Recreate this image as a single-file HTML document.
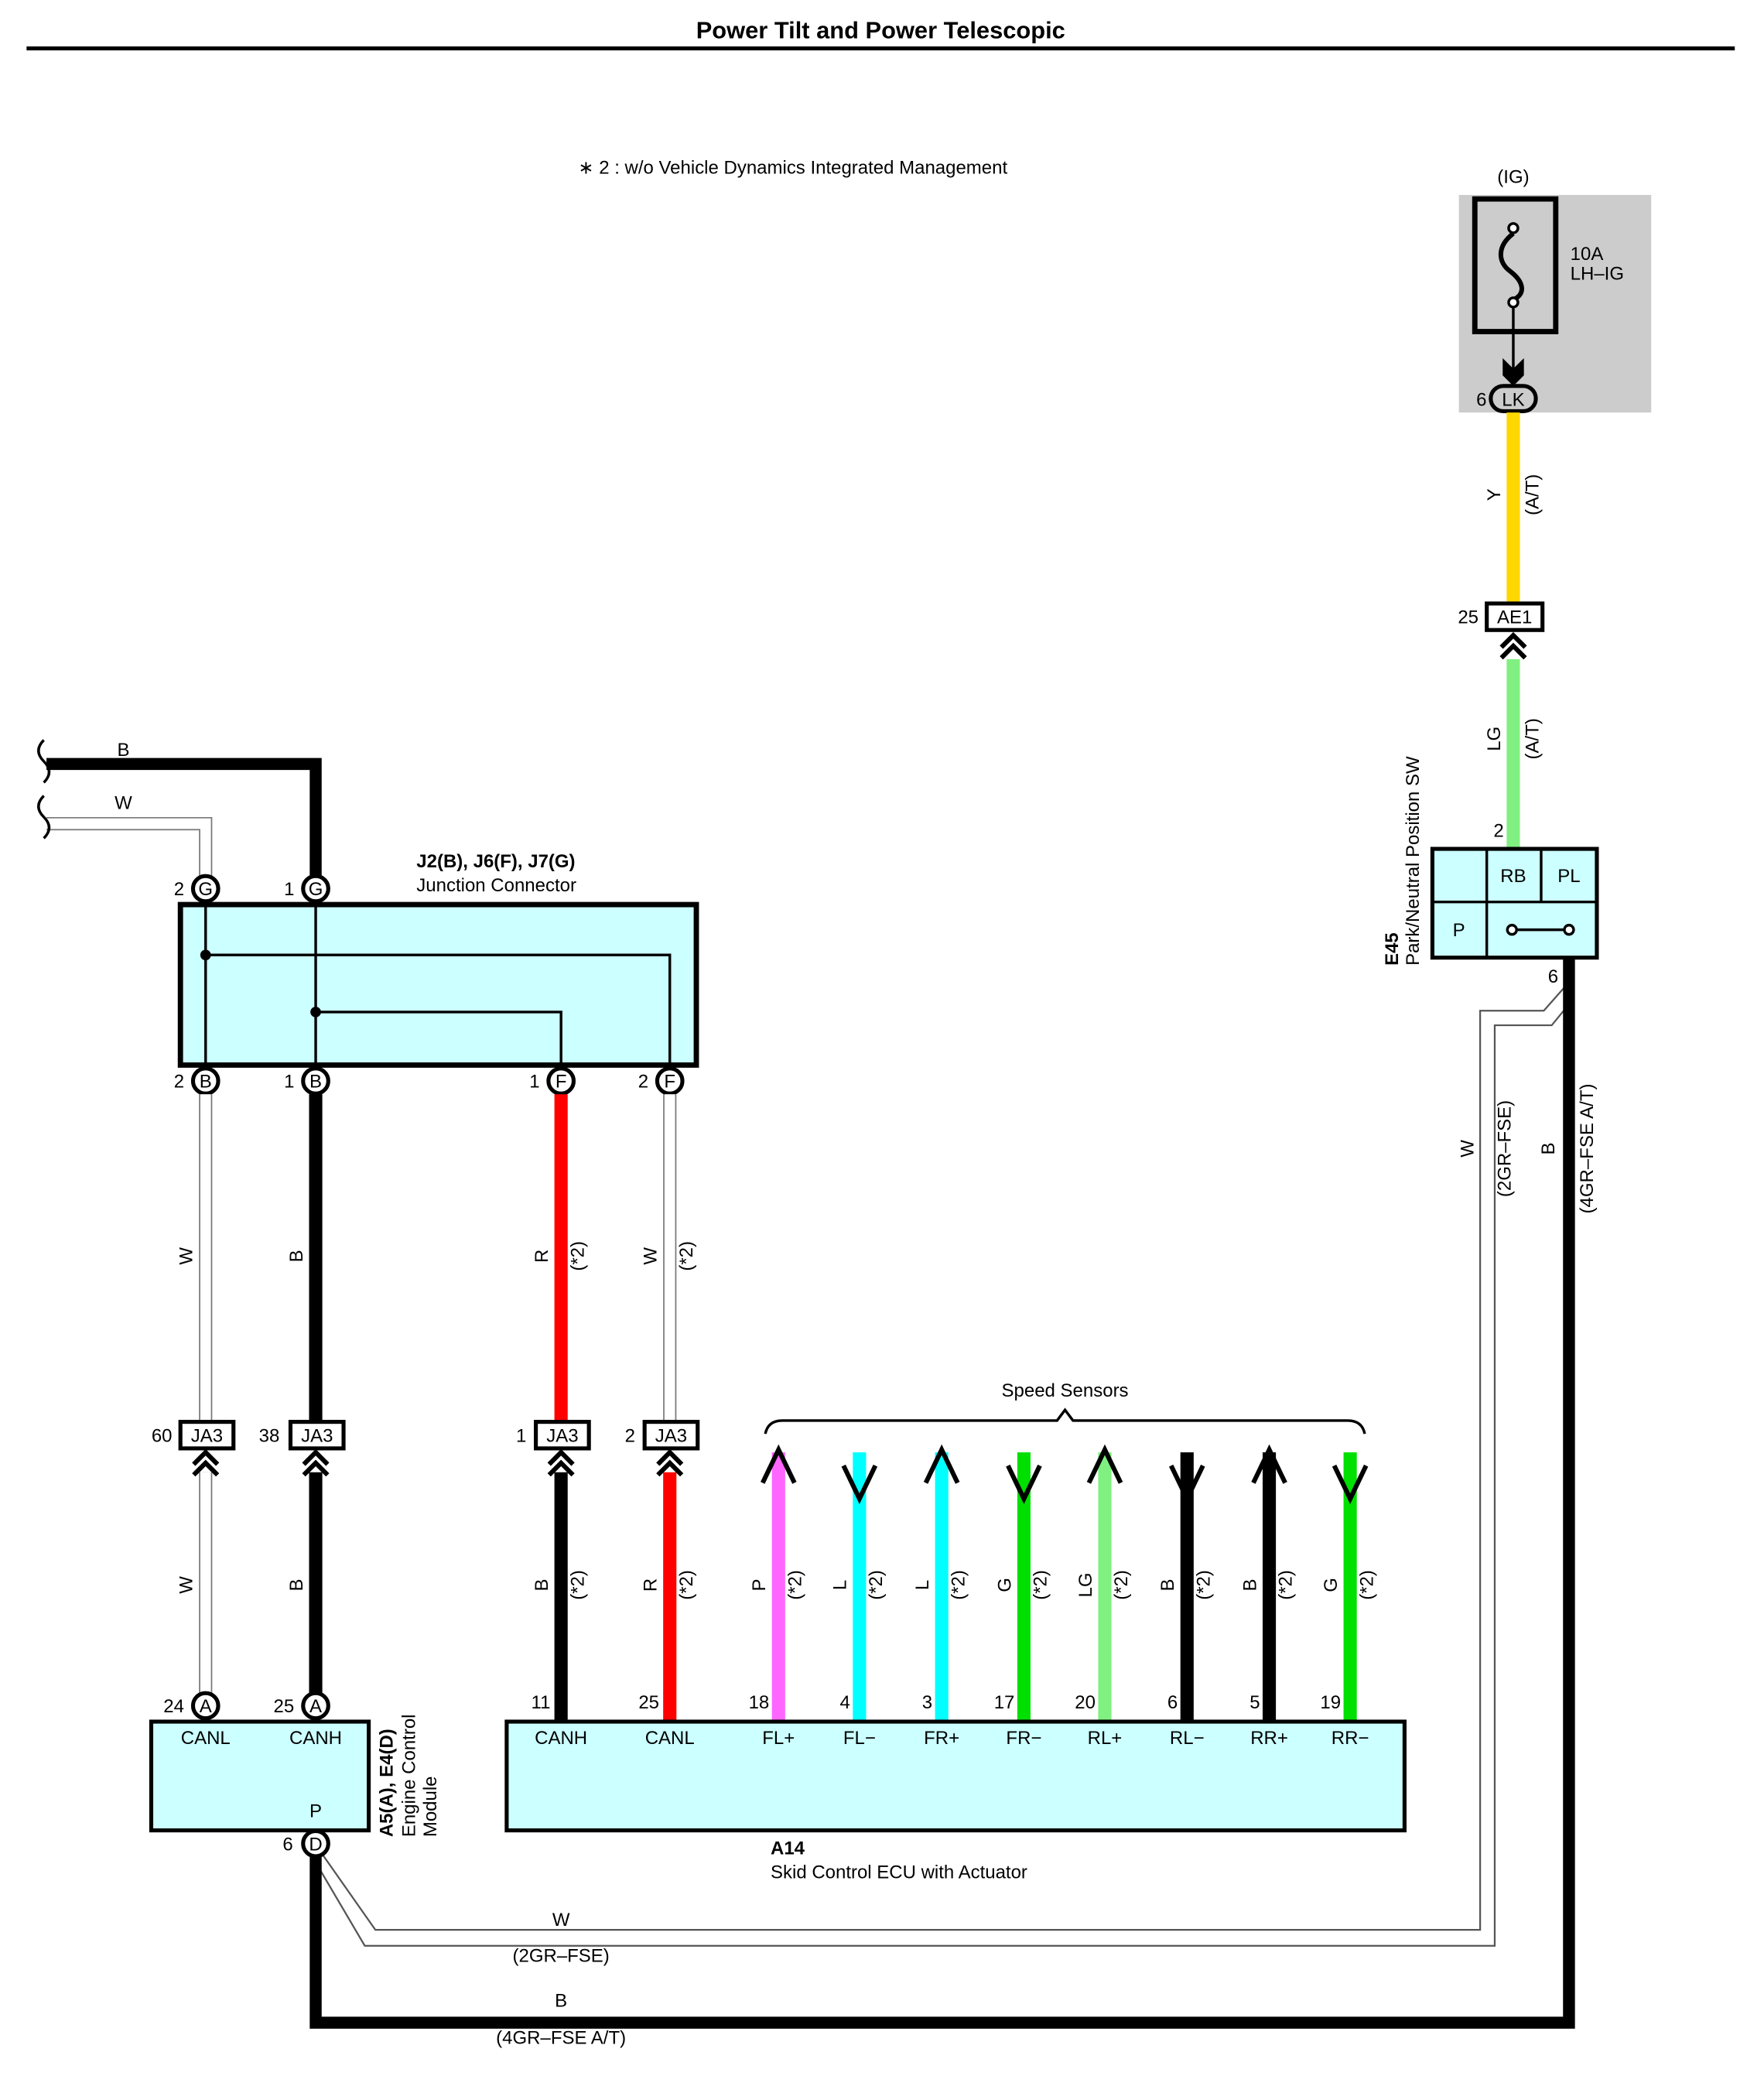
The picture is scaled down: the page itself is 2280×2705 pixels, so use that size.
<!DOCTYPE html>
<html><head><meta charset="utf-8"><style>
html,body{margin:0;padding:0;background:#fff}
svg{display:block}
text{font-family:"Liberation Sans",Arial,sans-serif;font-size:14px;fill:#000}
.b{font-weight:bold}
</style></head><body>
<svg width="2280" height="2705" viewBox="0 0 1330 1578" xmlns="http://www.w3.org/2000/svg">
<rect width="1330" height="1578" fill="#fff"/>
<text x="664" y="29" text-anchor="middle" class="b" style="font-size:18px">Power Tilt and Power Telescopic</text>
<line x1="20" y1="36.5" x2="1308" y2="36.5" stroke="#000" stroke-width="3"/>
<text x="436" y="131">∗ 2 : w/o Vehicle Dynamics Integrated Management</text>

<!-- Fuse -->
<rect x="1100" y="147" width="145" height="164" fill="#cccccc"/>
<text x="1141" y="138" text-anchor="middle">(IG)</text>
<rect x="1112" y="150" width="61" height="100" fill="none" stroke="#000" stroke-width="4"/>
<path d="M1141,176 C1128,186 1130,198 1138,204 C1150,213 1150,222 1141,226" fill="none" stroke="#000" stroke-width="3.5"/>
<circle cx="1141" cy="172" r="3.5" fill="#fff" stroke="#000" stroke-width="2"/>
<circle cx="1141" cy="228" r="3.5" fill="#fff" stroke="#000" stroke-width="2"/>
<line x1="1141" y1="231" x2="1141" y2="285" stroke="#000" stroke-width="2"/>
<path d="M1133,270 L1141,278 L1149,270 L1149,283 L1141,291 L1133,283Z" fill="#000"/>
<text x="1184" y="196">10A</text><text x="1184" y="211">LH–IG</text>
<rect x="1124" y="291" width="34" height="19" rx="9.5" fill="#ccc" stroke="#000" stroke-width="3"/>
<text x="1141" y="306" text-anchor="middle">LK</text>
<text x="1117" y="306" text-anchor="middle">6</text>

<!-- Y wire -->
<line x1="1141" y1="311" x2="1141" y2="455" stroke="#ffd700" stroke-width="10"/>
<text transform="translate(1131,373) rotate(-90)" text-anchor="middle">Y</text>
<text transform="translate(1160,373) rotate(-90)" text-anchor="middle">(A/T)</text>
<rect x="1121" y="455" width="42" height="20" fill="#fff" stroke="#000" stroke-width="3"/>
<text x="1142" y="470" text-anchor="middle">AE1</text>
<text x="1107" y="470" text-anchor="middle">25</text>
<line x1="1141" y1="497" x2="1141" y2="640" stroke="#80f080" stroke-width="10"/>
<path d="M1132,488 L1141,479 L1150,488 M1132,496 L1141,487 L1150,496" fill="none" stroke="#000" stroke-width="3.5"/>
<text transform="translate(1131,557) rotate(-90)" text-anchor="middle">LG</text>
<text transform="translate(1160,557) rotate(-90)" text-anchor="middle">(A/T)</text>
<text x="1130" y="631" text-anchor="middle">2</text>

<!-- E45 -->
<rect x="1080" y="640" width="124" height="82" fill="#ccffff" stroke="#000" stroke-width="3"/>
<line x1="1121" y1="640" x2="1121" y2="722" stroke="#000" stroke-width="2"/>
<line x1="1080" y1="680" x2="1204" y2="680" stroke="#000" stroke-width="2"/>
<line x1="1162" y1="640" x2="1162" y2="680" stroke="#000" stroke-width="2"/>
<text x="1141" y="665" text-anchor="middle">RB</text>
<text x="1183" y="665" text-anchor="middle">PL</text>
<text x="1100" y="706" text-anchor="middle">P</text>
<line x1="1140" y1="701" x2="1183" y2="701" stroke="#000" stroke-width="2"/>
<circle cx="1140" cy="701" r="3.5" fill="#fff" stroke="#000" stroke-width="2"/>
<circle cx="1183" cy="701" r="3.5" fill="#fff" stroke="#000" stroke-width="2"/>
<text transform="translate(1054,728) rotate(-90)" class="b">E45</text>
<text transform="translate(1070,728) rotate(-90)">Park/Neutral Position SW</text>
<text x="1171" y="741" text-anchor="middle">6</text>

<!-- W 2GR path (two thin lines) -->
<g fill="none" stroke="#555" stroke-width="1.3">
<path d="M1179,745 L1164,762 L1116,762 L1116,1455 L283,1455 L243,1398"/>
<path d="M1179,762 L1170,773 L1127,773 L1127,1467 L275,1467 L235,1399"/>
</g>
<!-- B 4GR path -->
<path d="M1183,722 L1183,1525 L238,1525 L238,1400" fill="none" stroke="#000" stroke-width="9"/>
<text transform="translate(1111,866) rotate(-90)" text-anchor="middle">W</text>
<text transform="translate(1139,866) rotate(-90)" text-anchor="middle">(2GR–FSE)</text>
<text transform="translate(1172,866) rotate(-90)" text-anchor="middle">B</text>
<text transform="translate(1201,866) rotate(-90)" text-anchor="middle">(4GR–FSE A/T)</text>
<text x="423" y="1452" text-anchor="middle">W</text>
<text x="423" y="1479" text-anchor="middle">(2GR–FSE)</text>
<text x="423" y="1513" text-anchor="middle">B</text>
<text x="423" y="1541" text-anchor="middle">(4GR–FSE A/T)</text>

<!-- Top-left wires -->
<path d="M35,576 L238,576 L238,670" fill="none" stroke="#000" stroke-width="9"/>
<path d="M35,621 L155,621 L155,670" fill="none" stroke="#777" stroke-width="10"/>
<path d="M35,621 L155,621 L155,670" fill="none" stroke="#fff" stroke-width="8"/>
<path d="M33,558 q-8,8 0,16 q8,8 0,16 M33,600 q-8,8 0,16 q8,8 0,16" fill="none" stroke="#000" stroke-width="2"/>
<text x="93" y="570" text-anchor="middle">B</text>
<text x="93" y="610" text-anchor="middle">W</text>
<text x="314" y="654" class="b">J2(B), J6(F), J7(G)</text>
<text x="314" y="672">Junction Connector</text>

<!-- Junction box -->
<rect x="136" y="682" width="389" height="121" fill="#ccffff" stroke="#000" stroke-width="4"/>
<path d="M155,680 V803 M238,680 V803 M155,720 H505 V803 M238,763 H423 V803" fill="none" stroke="#000" stroke-width="2"/>
<circle cx="155" cy="720" r="4" fill="#000"/><circle cx="238" cy="763" r="4" fill="#000"/>
<g fill="#fff" stroke="#000" stroke-width="3">
<circle cx="155" cy="670" r="9.5"/><circle cx="238" cy="670" r="9.5"/>
<circle cx="155" cy="815" r="9.5"/><circle cx="238" cy="815" r="9.5"/><circle cx="423" cy="815" r="9.5"/><circle cx="505" cy="815" r="9.5"/>
</g>
<g text-anchor="middle">
<text x="155" y="675">G</text><text x="238" y="675">G</text><text x="135" y="675">2</text><text x="218" y="675">1</text>
<text x="155" y="820">B</text><text x="238" y="820">B</text><text x="423" y="820">F</text><text x="505" y="820">F</text>
<text x="135" y="820">2</text><text x="218" y="820">1</text><text x="403" y="820">1</text><text x="485" y="820">2</text>
</g>

<!-- middle wires -->
<g fill="none">
<line x1="155" y1="825" x2="155" y2="1071" stroke="#777" stroke-width="10"/><line x1="155" y1="825" x2="155" y2="1071" stroke="#fff" stroke-width="8"/>
<line x1="505" y1="825" x2="505" y2="1071" stroke="#777" stroke-width="10"/><line x1="505" y1="825" x2="505" y2="1071" stroke="#fff" stroke-width="8"/>
<line x1="238" y1="825" x2="238" y2="1071" stroke="#000" stroke-width="10"/>
<line x1="423" y1="825" x2="423" y2="1071" stroke="#ff0000" stroke-width="10"/>
<line x1="155" y1="1110" x2="155" y2="1286" stroke="#777" stroke-width="10"/><line x1="155" y1="1110" x2="155" y2="1286" stroke="#fff" stroke-width="8"/>
<line x1="238" y1="1110" x2="238" y2="1286" stroke="#000" stroke-width="10"/>
<line x1="423" y1="1110" x2="423" y2="1298" stroke="#000" stroke-width="10"/>
<line x1="505" y1="1110" x2="505" y2="1298" stroke="#ff0000" stroke-width="10"/>
</g>
<g text-anchor="middle">
<text transform="translate(145,947) rotate(-90)">W</text>
<text transform="translate(228,947) rotate(-90)">B</text>
<text transform="translate(413,947) rotate(-90)">R</text><text transform="translate(440,947) rotate(-90)">(*2)</text>
<text transform="translate(495,947) rotate(-90)">W</text><text transform="translate(522,947) rotate(-90)">(*2)</text>
<text transform="translate(145,1195) rotate(-90)">W</text>
<text transform="translate(228,1195) rotate(-90)">B</text>
<text transform="translate(413,1195) rotate(-90)">B</text><text transform="translate(440,1195) rotate(-90)">(*2)</text>
<text transform="translate(495,1195) rotate(-90)">R</text><text transform="translate(522,1195) rotate(-90)">(*2)</text>
</g>
<!-- JA3 boxes -->
<g fill="#fff" stroke="#000" stroke-width="3">
<rect x="136" y="1072" width="40" height="20"/><rect x="219" y="1072" width="40" height="20"/>
<rect x="404" y="1072" width="40" height="20"/><rect x="486" y="1072" width="40" height="20"/>
</g>
<g text-anchor="middle">
<text x="156" y="1087">JA3</text><text x="239" y="1087">JA3</text><text x="424" y="1087">JA3</text><text x="506" y="1087">JA3</text>
<text x="122" y="1087">60</text><text x="203" y="1087">38</text><text x="393" y="1087">1</text><text x="475" y="1087">2</text>
</g>
<g fill="none" stroke="#000" stroke-width="3.5">
<path d="M146,1104 L155,1095 L164,1104 M146,1112 L155,1103 L164,1112"/>
<path d="M229,1104 L238,1095 L247,1104 M229,1112 L238,1103 L247,1112"/>
<path d="M414,1104 L423,1095 L432,1104 M414,1112 L423,1103 L432,1112"/>
<path d="M496,1104 L505,1095 L514,1104 M496,1112 L505,1103 L514,1112"/>
</g>

<!-- speed sensors -->
<text x="803" y="1053" text-anchor="middle">Speed Sensors</text>
<path d="M577,1081 Q579,1071 590,1071 L797,1071 L803,1063 L809,1071 L1016,1071 Q1027,1071 1029,1081" fill="none" stroke="#000" stroke-width="2"/>
<g stroke-width="10">
<line x1="587" y1="1095" x2="587" y2="1298" stroke="#ff66ff"/>
<line x1="648" y1="1095" x2="648" y2="1298" stroke="#00ffff"/>
<line x1="710" y1="1095" x2="710" y2="1298" stroke="#00ffff"/>
<line x1="772" y1="1095" x2="772" y2="1298" stroke="#00e000"/>
<line x1="833" y1="1095" x2="833" y2="1298" stroke="#80f080"/>
<line x1="895" y1="1095" x2="895" y2="1298" stroke="#000"/>
<line x1="957" y1="1095" x2="957" y2="1298" stroke="#000"/>
<line x1="1018" y1="1095" x2="1018" y2="1298" stroke="#00e000"/>
</g>
<g fill="none" stroke="#000" stroke-width="3.5">
<path d="M575,1118 L587,1093 L599,1118"/>
<path d="M636,1105 L648,1130 L660,1105"/>
<path d="M698,1118 L710,1093 L722,1118"/>
<path d="M760,1105 L772,1130 L784,1105"/>
<path d="M821,1118 L833,1093 L845,1118"/>
<path d="M883,1105 L895,1130 L907,1105"/>
<path d="M945,1118 L957,1093 L969,1118"/>
<path d="M1006,1105 L1018,1130 L1030,1105"/>
</g>
<g text-anchor="middle">
<text transform="translate(577,1195) rotate(-90)">P</text><text transform="translate(604,1195) rotate(-90)">(*2)</text>
<text transform="translate(638,1195) rotate(-90)">L</text><text transform="translate(665,1195) rotate(-90)">(*2)</text>
<text transform="translate(700,1195) rotate(-90)">L</text><text transform="translate(727,1195) rotate(-90)">(*2)</text>
<text transform="translate(762,1195) rotate(-90)">G</text><text transform="translate(789,1195) rotate(-90)">(*2)</text>
<text transform="translate(823,1195) rotate(-90)">LG</text><text transform="translate(850,1195) rotate(-90)">(*2)</text>
<text transform="translate(885,1195) rotate(-90)">B</text><text transform="translate(912,1195) rotate(-90)">(*2)</text>
<text transform="translate(947,1195) rotate(-90)">B</text><text transform="translate(974,1195) rotate(-90)">(*2)</text>
<text transform="translate(1008,1195) rotate(-90)">G</text><text transform="translate(1035,1195) rotate(-90)">(*2)</text>
</g>
<g text-anchor="end">
<text x="415" y="1288">11</text><text x="497" y="1288">25</text><text x="580" y="1288">18</text><text x="641" y="1288">4</text>
<text x="703" y="1288">3</text><text x="765" y="1288">17</text><text x="826" y="1288">20</text><text x="888" y="1288">6</text>
<text x="950" y="1288">5</text><text x="1011" y="1288">19</text>
</g>

<!-- ECM -->
<rect x="114" y="1298" width="164" height="82" fill="#ccffff" stroke="#000" stroke-width="3"/>
<g fill="#fff" stroke="#000" stroke-width="3">
<circle cx="155" cy="1286" r="9.5"/><circle cx="238" cy="1286" r="9.5"/><circle cx="238" cy="1390" r="9.5"/>
</g>
<g text-anchor="middle">
<text x="155" y="1291">A</text><text x="238" y="1291">A</text><text x="238" y="1395">D</text>
<text x="131" y="1291">24</text><text x="214" y="1291">25</text><text x="217" y="1395">6</text>
<text x="155" y="1315">CANL</text><text x="238" y="1315">CANH</text><text x="238" y="1370">P</text>
</g>
<text transform="translate(296,1385) rotate(-90)" class="b">A5(A), E4(D)</text>
<text transform="translate(313,1385) rotate(-90)">Engine Control</text>
<text transform="translate(329,1385) rotate(-90)">Module</text>

<!-- A14 -->
<rect x="382" y="1298" width="677" height="82" fill="#ccffff" stroke="#000" stroke-width="3"/>
<g text-anchor="middle">
<text x="423" y="1315">CANH</text><text x="505" y="1315">CANL</text><text x="587" y="1315">FL+</text><text x="648" y="1315">FL−</text>
<text x="710" y="1315">FR+</text><text x="772" y="1315">FR−</text><text x="833" y="1315">RL+</text><text x="895" y="1315">RL−</text>
<text x="957" y="1315">RR+</text><text x="1018" y="1315">RR−</text>
</g>
<text x="581" y="1398" class="b">A14</text>
<text x="581" y="1416">Skid Control ECU with Actuator</text>
</svg>
</body></html>
